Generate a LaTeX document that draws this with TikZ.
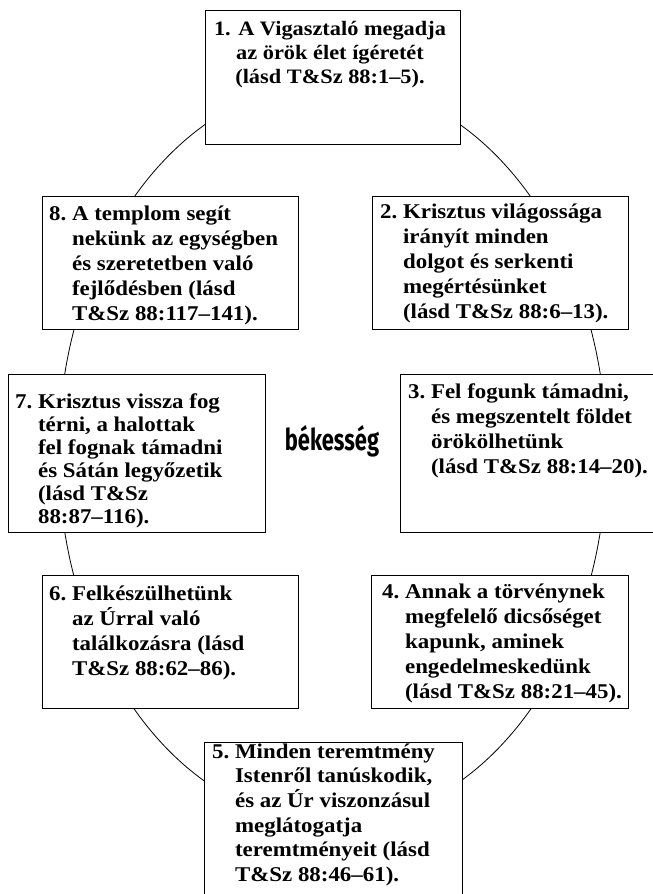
\documentclass[tikz,border=0pt]{standalone}
\usepackage{fontspec}
\setmainfont{Liberation Serif}
\newfontfamily\boxfont[FakeStretch=1.09]{Liberation Serif}
\newfontfamily\peacefont[FakeStretch=0.73]{Fira Sans}
\tikzset{
  box/.style={draw=black, line width=1pt, fill=white, inner sep=0pt, anchor=north west},
  btext/.style={anchor=base west, inner sep=0pt, font=\boxfont\bfseries\fontsize{21}{25}\selectfont},
  ring/.style={draw=black, line width=0.8pt}
}
\newcommand{\itm}[2]{\begin{tabular}[t]{@{}l@{\ }l@{}}#1 & #2\end{tabular}}
\begin{document}
\begin{tikzpicture}[x=1pt,y=-1pt]
\useasboundingbox (0,0) rectangle (653,894);
\draw[ring] (332.5,453) ellipse [x radius=274pt, y radius=371pt];
% boxes
\node[box, minimum width=255pt, minimum height=134pt] (b1) at (205,10) {};
\node[box, minimum width=256pt, minimum height=133pt] (b2) at (372,196) {};
\node[box, minimum width=262pt, minimum height=158pt] (b3) at (400,374) {};
\node[box, minimum width=257pt, minimum height=133pt] (b4) at (371,575) {};
\node[box, minimum width=258pt, minimum height=160pt] (b5) at (204,742) {};
\node[box, minimum width=256pt, minimum height=133pt] (b6) at (42,575) {};
\node[box, minimum width=257pt, minimum height=158pt] (b7) at (8,374) {};
\node[box, minimum width=256pt, minimum height=133pt] (b8) at (42,196) {};
% texts
\node[anchor=base, inner sep=0pt, font=\boxfont\bfseries\fontsize{20.5}{24}\selectfont] (t1) at (330,35)
  {\begin{tabular}[t]{@{}c@{}}1. A Vigasztaló megadja\\ az örök élet ígéretét\\ (lásd T\&Sz 88:1–5).\end{tabular}};
\node[btext] (t2) at (380,218) {\itm{2.}{Krisztus világossága\\ & irányít minden\\ & dolgot és serkenti\\ & megértésünket\\ & (lásd T\&Sz 88:6–13).}};
\node[btext] (t3) at (408,398) {\itm{3.}{Fel fogunk támadni,\\ & és megszentelt földet\\ & örökölhetünk\\ & (lásd T\&Sz 88:14–20).}};
\node[btext] (t4) at (382,598) {\itm{4.}{Annak a törvénynek\\ & megfelelő dicsőséget\\ & kapunk, aminek\\ & engedelmeskedünk\\ & (lásd T\&Sz 88:21–45).}};
\node[btext, font=\boxfont\bfseries\fontsize{21}{24.5}\selectfont] (t5) at (212,758) {\itm{5.}{Minden teremtmény\\ & Istenről tanúskodik,\\ & és az Úr viszonzásul\\ & meglátogatja\\ & teremtményeit (lásd\\ & T\&Sz 88:46–61).}};
\node[btext] (t6) at (49,600) {\itm{6.}{Felkészülhetünk\\ & az Úrral való\\ & találkozásra (lásd\\ & T\&Sz 88:62–86).}};
\node[btext, font=\boxfont\bfseries\fontsize{21}{23}\selectfont] (t7) at (15,408) {\itm{7.}{Krisztus vissza fog\\ & térni, a halottak\\ & fel fognak támadni\\ & és Sátán legyőzetik\\ & (lásd T\&Sz\\ & 88:87–116).}};
\node[btext] (t8) at (49,220) {\itm{8.}{A templom segít\\ & nekünk az egységben\\ & és szeretetben való\\ & fejlődésben (lásd\\ & T\&Sz 88:117–141).}};
\node[anchor=base, inner sep=0pt, font=\peacefont\bfseries\fontsize{30}{32}\selectfont] (peace) at (332,450) {békesség};
\end{tikzpicture}
\end{document}
